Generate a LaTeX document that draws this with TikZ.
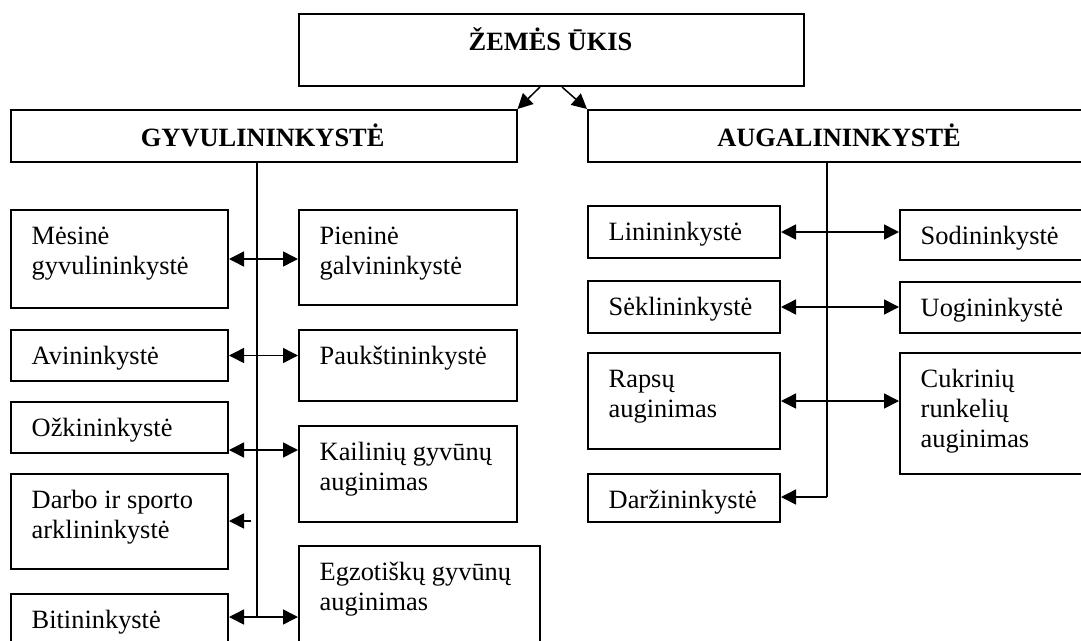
\documentclass[tikz,border=0pt]{standalone}
\usepackage{fontspec}
\setmainfont{Liberation Serif}
\usetikzlibrary{arrows.meta,calc}
\tikzset{
 box/.style={draw, line width=2pt, anchor=north west, inner sep=0pt},
 lbl/.style={anchor=north west, inner sep=0pt, align=left, font=\fontsize{26.4}{30}\selectfont},
 ttl/.style={anchor=base, inner sep=0pt, font=\fontsize{26.4}{30}\selectfont\bfseries},
 conn/.style={line width=1.5pt},
 arr/.style={conn, -{Triangle[length=15pt,width=15pt]}},
 darr/.style={conn, {Triangle[length=15pt,width=15pt]}-{Triangle[length=15pt,width=15pt]}},
}
\newcommand\mybox[6]{%
 \node[box, minimum width={#4pt-#2pt}, minimum height={#5pt-#3pt}] (#1) at (#2,#3) {};
 \node[lbl] (#1-t) at ($(#1.north west)+(21.5,9)$) {\rule{0pt}{26pt}#6};}
\begin{document}
\begin{tikzpicture}[x=1pt,y=-1pt]
\useasboundingbox (0,0) rectangle (1081,640);
\clip (0,0) rectangle (1081,640);
% headers
\node[box, minimum width=505pt, minimum height=72pt] (zem) at (298,13) {};
\node[ttl] (zem-t) at (550.5,50) {ŽEMĖS ŪKIS};
\node[box, minimum width=505.5pt, minimum height=52pt] (gyv) at (10,109) {};
\node[ttl] (gyv-t) at (262.7,146) {GYVULININKYSTĖ};
\node[box, minimum width=505pt, minimum height=52pt] (aug) at (587,109) {};
\node[ttl] (aug-t) at (839,146) {AUGALININKYSTĖ};
% left boxes
\mybox{mes}{10}{209}{227}{307}{Mėsinė\\gyvulininkystė}
\mybox{pien}{298}{209}{515.5}{304}{Pieninė\\galvininkystė}
\mybox{avin}{10}{329}{227}{380}{Avininkystė}
\mybox{pauk}{298}{329}{515.5}{400}{Paukštininkystė}
\mybox{ozk}{10}{401}{227}{452}{Ožkininkystė}
\mybox{kail}{298}{425}{515.5}{521}{Kailinių gyvūnų\\auginimas}
\mybox{darb}{10}{473}{227}{568}{Darbo ir sporto\\arklininkystė}
\mybox{egz}{298}{545}{539}{660}{Egzotiškų gyvūnų\\auginimas}
\mybox{bit}{10}{593}{227}{660}{Bitininkystė}
% right boxes
\mybox{lin}{587}{205}{779}{257}{Linininkystė}
\mybox{sod}{899}{209}{1095}{259}{Sodininkystė}
\mybox{sek}{587}{280}{779}{332}{Sėklininkystė}
\mybox{uog}{899}{281}{1095}{332}{Uogininkystė}
\mybox{rap}{587}{352}{779}{448}{Rapsų\\auginimas}
\mybox{cuk}{899}{352}{1095}{473}{Cukrinių\\runkelių\\auginimas}
\mybox{darz}{587}{473}{779}{521}{Daržininkystė}
% top arrows
\draw[arr] ($(zem.south west)+(242,0)$) -- (gyv.north east);
\draw[arr] ($(zem.south west)+(264,0)$) -- (aug.north west);
% left trunk
\coordinate (tL) at (257,161);
\coordinate (tLb) at (257,617);
\draw[conn] (tL) -- (tLb);
\draw[darr] (mes.east) -- (mes.east -| pien.west);
\draw[darr] (avin.east) -- (avin.east -| pauk.west);
\coordinate (oA) at ($(ozk.south east)+(0,-4)$);
\draw[darr] (oA) -- (oA -| kail.west);
\coordinate (dA) at (251,521);
\draw[arr] (dA) -- (dA -| darb.east);
\draw[darr] (tLb -| bit.east) -- (tLb -| egz.west);
% right trunk
\coordinate (tR) at (827,161);
\coordinate (tRb) at (827,497);
\draw[conn] (tR) -- (tRb);
\draw[darr] (lin.east) -- (lin.east -| sod.west);
\draw[darr] (sek.east) -- (sek.east -| uog.west);
\draw[darr] (rap.east) -- (rap.east -| cuk.west);
\draw[arr] (tRb) -- (tRb -| darz.east);
\end{tikzpicture}
\end{document}
